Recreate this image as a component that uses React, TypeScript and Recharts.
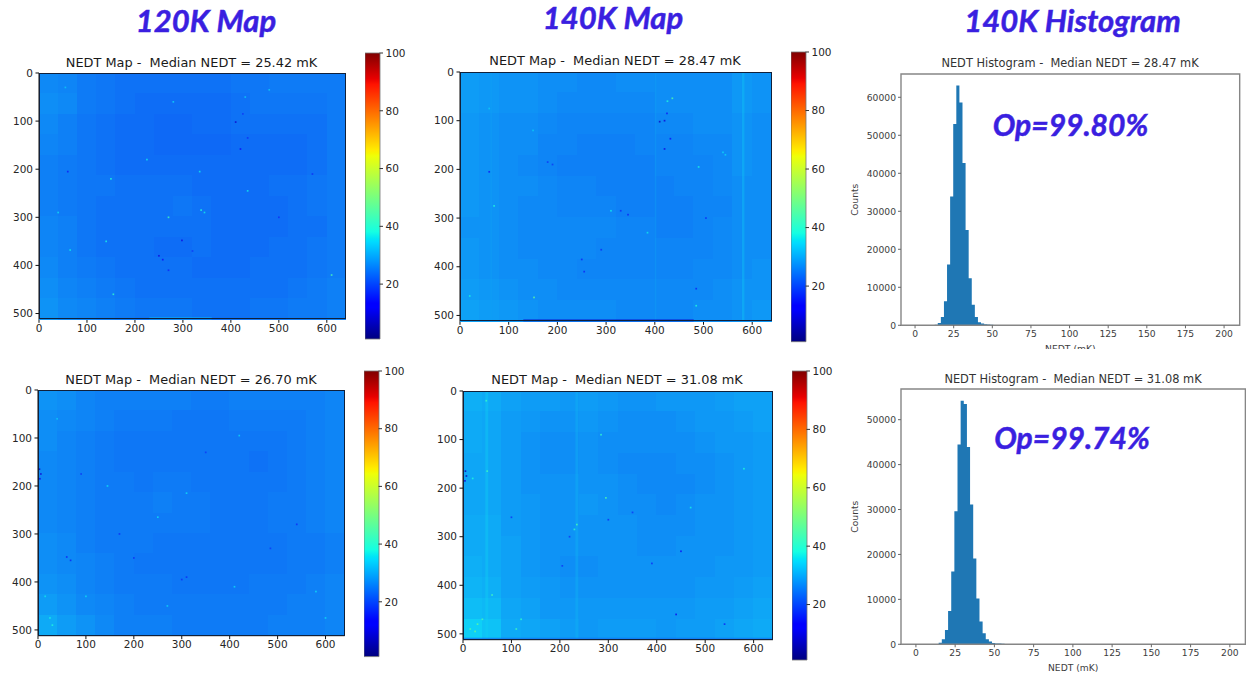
import {
  AreaChart,
  Area,
  BarChart,
  Bar,
  ScatterChart,
  Scatter,
  XAxis,
  YAxis,
  ReferenceArea,
} from 'recharts';

// NEDT readings (mK) averaged over 16 x 12 blocks of the 640 x 512 focal plane
const map120kTop = [
  [26.5, 26, 25, 24.5, 24, 24, 24, 24, 24, 24, 24.5, 24.5, 25, 25, 25, 25],
  [27, 26.5, 25, 24.5, 24, 23.5, 23.5, 23.5, 23.5, 23.5, 24, 24.5, 24.5, 24.5, 24.5, 25],
  [26.5, 25.5, 24.5, 24, 23.5, 23.5, 23, 23, 23.5, 23.5, 24, 24, 24, 24, 24, 25],
  [26, 25.5, 24.5, 24, 23.5, 23.5, 23, 23, 23, 23, 23.5, 23.5, 23.5, 23.5, 24, 25],
  [25.5, 25, 24.5, 24, 23.5, 23.5, 23.5, 23.5, 23.5, 23.5, 23.5, 23.5, 23.5, 23.5, 24, 25],
  [25.5, 25, 24.5, 24.5, 24, 24, 24, 24, 23.5, 23.5, 23.5, 23.5, 24, 24, 24.5, 25],
  [25.5, 25, 24.5, 24, 24, 24, 24, 24.5, 24, 23.5, 23.5, 23.5, 23.5, 24, 24.5, 25],
  [26, 25.5, 24.5, 24, 24, 24, 24, 24, 24, 23.5, 23.5, 23.5, 23.5, 24, 24, 25],
  [26, 25.5, 24.5, 24, 24, 24, 23.5, 23.5, 24, 23.5, 23.5, 23.5, 24, 24, 24.5, 25],
  [26.5, 25.5, 25, 24.5, 24, 24, 24, 24, 23.5, 23.5, 23.5, 24, 24, 24, 24.5, 25],
  [27, 26, 25.5, 25, 24.5, 24, 24, 24, 24, 24, 24, 24, 24, 24.5, 25, 25.5],
  [27.5, 26.5, 26, 25.5, 25, 24.5, 24.5, 24.5, 24, 24, 24, 24.5, 24.5, 25, 25, 25.5],
];
const map140kTop = [
  [28.5, 28, 27.5, 27.5, 27, 27, 26.5, 26.5, 27, 27, 27, 27, 27, 27, 28, 27.5],
  [28.5, 28, 27.5, 27.5, 27, 26.5, 26.5, 26.5, 26.5, 26.5, 27, 27, 27, 27, 28, 27.5],
  [28, 27.5, 27, 27, 26.5, 26, 26, 26, 26, 26, 26.5, 26.5, 27, 27, 27.5, 27],
  [28, 27.5, 27, 27, 26, 26, 25.5, 25.5, 25.5, 26, 26, 26, 26.5, 26.5, 27.5, 27],
  [28, 27.5, 27, 26.5, 26, 25.5, 25.5, 25.5, 25.5, 25.5, 26, 26, 26, 26.5, 27.5, 27],
  [28, 27.5, 27, 27, 26.5, 26, 26, 25.5, 25.5, 25.5, 25.5, 26, 26, 26.5, 27, 27],
  [28, 27.5, 27, 26.5, 26.5, 26, 26, 26, 25.5, 25.5, 25.5, 25.5, 26, 26, 27, 27],
  [27.5, 27.5, 27, 26.5, 26.5, 26.5, 26.5, 26.5, 26, 26, 25.5, 25.5, 26, 26.5, 27, 27],
  [28, 27.5, 27, 26.5, 26.5, 26.5, 26.5, 26, 26, 26, 26, 26, 26, 26.5, 27, 27],
  [28, 27.5, 27, 27, 26.5, 26.5, 26, 26, 26, 26, 26, 26, 26.5, 26.5, 27, 27.5],
  [28.5, 28, 27.5, 27, 27, 26.5, 26.5, 26.5, 26.5, 26.5, 26.5, 26.5, 26.5, 27, 27.5, 27.5],
  [29, 28.5, 28, 27.5, 27, 27, 27, 27, 26.5, 26.5, 26.5, 26.5, 27, 27, 27.5, 28],
];
const map120kBottom = [
  [27.5, 27, 26, 25.5, 25.5, 25.5, 25.5, 25.5, 25, 25, 25.5, 25.5, 25.5, 25.5, 25.5, 26],
  [27, 26.5, 26, 25.5, 25, 25, 25, 24.5, 24.5, 24.5, 25, 25, 25, 25, 25.5, 26],
  [27, 26, 25.5, 25, 24.5, 24.5, 24.5, 24.5, 24.5, 24.5, 24.5, 24.5, 24.5, 25, 25.5, 26],
  [26.5, 26, 25.5, 25, 24.5, 24.5, 24.5, 24.5, 24.5, 24.5, 24.5, 24, 24.5, 25, 25.5, 26],
  [26.5, 26, 25.5, 25, 25, 24.5, 25, 25, 24.5, 24.5, 24.5, 24.5, 24.5, 25, 25.5, 26],
  [26.5, 26, 25.5, 25, 25, 25, 25.5, 25, 25, 24.5, 24.5, 24.5, 25, 25, 25.5, 26],
  [26.5, 26, 25.5, 25, 25, 25, 25, 25, 25, 24.5, 24.5, 24.5, 25, 25, 25.5, 26],
  [27, 26.5, 25.5, 25, 25, 25, 24.5, 24.5, 24.5, 24.5, 24.5, 24.5, 24.5, 25, 25, 25.5],
  [27, 26.5, 26, 25.5, 25, 24.5, 24.5, 24.5, 24.5, 24.5, 24.5, 24.5, 24.5, 25, 25, 25.5],
  [27.5, 27, 26, 25.5, 25, 25, 25, 24.5, 24.5, 24.5, 24.5, 25, 25, 25, 25.5, 26],
  [28.5, 27.5, 26.5, 26, 25.5, 25, 25, 25, 25, 25, 25, 25, 25, 25.5, 25.5, 26],
  [30, 28.5, 27.5, 26.5, 25.5, 25.5, 25.5, 25, 25, 25, 25, 25, 25.5, 25.5, 25.5, 26],
];
const map140kBottom = [
  [30.5, 30, 29, 28.5, 28.5, 28, 28.5, 28, 27.5, 27.5, 28, 28, 28, 28.5, 29, 29],
  [30, 29.5, 28.5, 28, 27.5, 27.5, 28, 27.5, 27, 27, 27, 27.5, 28, 28, 28.5, 29],
  [30, 29.5, 28.5, 27.5, 27, 27, 27.5, 27, 27, 27, 27, 27, 27.5, 28, 28, 28.5],
  [29.5, 29.5, 28.5, 27.5, 27, 27, 27.5, 27, 26.5, 26.5, 26.5, 27, 27, 27.5, 28, 28.5],
  [29.5, 29.5, 28.5, 27.5, 27.5, 27.5, 27.5, 27.5, 27, 26.5, 26.5, 26.5, 27, 27.5, 28, 28.5],
  [29.5, 29.5, 28.5, 28, 27.5, 27.5, 28, 27.5, 27, 27, 26.5, 27, 27.5, 27.5, 28, 28.5],
  [30, 30, 28.5, 28, 27.5, 27.5, 27.5, 27.5, 27.5, 27, 27, 27, 27.5, 27.5, 28, 28.5],
  [30, 30, 29, 28, 27.5, 27.5, 27.5, 27.5, 27.5, 27, 27, 27.5, 27.5, 27.5, 28, 28.5],
  [30.5, 30, 29, 28, 27.5, 27, 27, 27.5, 27.5, 27.5, 27.5, 27.5, 27.5, 28, 28, 28.5],
  [31, 30.5, 29, 28.5, 28, 27.5, 27.5, 27.5, 27.5, 27.5, 27.5, 27.5, 28, 28, 28.5, 29],
  [32, 31.5, 29.5, 29, 28, 28, 28, 28, 28, 28, 28, 28, 28.5, 28.5, 29, 29.5],
  [34, 32.5, 30, 29.5, 29, 28.5, 28, 28.5, 28.5, 28.5, 28, 28.5, 28.5, 29, 29.5, 30],
];

// single pixels and clusters that stand out: [column, row, NEDT]
const spots120kTop = [
  [410, 102, 8], [420, 158, 12], [435, 135, 17], [425, 85, 18], [155, 460, 40], [610, 420, 43], [270, 300, 42],
  [250, 380, 10], [258, 388, 12], [298, 348, 10], [320, 370, 18], [338, 285, 38], [345, 290, 36], [150, 220, 38],
  [65, 368, 36], [40, 290, 35], [225, 180, 36], [270, 410, 16], [335, 205, 36], [435, 245, 36], [500, 300, 17],
  [140, 350, 37], [55, 30, 33], [480, 35, 33], [60, 205, 15], [570, 210, 17], [280, 60, 34], [430, 50, 33],
];
const spots140kTop = [
  [436, 54, 44], [426, 60, 38], [152, 463, 46], [410, 102, 7], [420, 100, 9], [425, 85, 15], [420, 158, 10],
  [432, 137, 14], [60, 205, 15], [70, 275, 38], [310, 285, 36], [345, 293, 16], [330, 285, 17], [180, 185, 18],
  [190, 190, 18], [250, 385, 16], [490, 195, 37], [540, 165, 34], [545, 170, 34], [60, 75, 33], [150, 120, 33],
  [385, 330, 36], [255, 410, 16], [505, 300, 17], [485, 445, 16], [485, 480, 38], [290, 365, 17], [20, 460, 37],
];
const spots120kBottom = [
  [3, 165, 8], [6, 175, 9], [4, 185, 11], [68, 355, 16], [60, 348, 16], [200, 350, 17], [300, 395, 17],
  [310, 390, 17], [30, 490, 38], [25, 475, 37], [145, 200, 35], [250, 265, 35], [310, 215, 35], [540, 280, 17],
  [15, 430, 36], [100, 430, 35], [350, 130, 18], [90, 175, 18], [420, 95, 34], [580, 420, 35], [40, 60, 33],
  [270, 450, 34], [485, 330, 18], [600, 475, 35], [170, 300, 17], [410, 410, 35],
];
const spots140kBottom = [
  [5, 165, 6], [7, 175, 7], [4, 185, 9], [295, 220, 44], [235, 275, 43], [230, 285, 40], [30, 480, 46],
  [25, 495, 47], [15, 490, 44], [40, 470, 43], [110, 490, 42], [50, 165, 42], [48, 20, 41], [450, 330, 14],
  [440, 460, 11], [540, 480, 16], [300, 265, 17], [220, 300, 18], [390, 355, 17], [20, 180, 38], [120, 470, 40],
  [285, 90, 40], [580, 160, 38], [470, 240, 37], [205, 360, 18], [100, 260, 18], [60, 420, 42], [350, 250, 18],
];

// [first column, last column, NEDT] for the column stripes of each frame
const stripes140kTop = [[579, 584, 33], [400, 403, 29], [62, 66, 29]];
const stripes140kBottom = [[46, 52, 34], [232, 238, 31]];

// [first column, last column, NEDT] for the damaged last rows
const edge120kTop = [[230, 360, 33]];
const edge140kTop = [[130, 480, 8]];
const edge140kBottom = [[0, 640, 24]];

const colorbarRange = [{ name: 'NEDT', range: [1, 100] }];
const colorbarTicks = [20, 40, 60, 80, 100];
const mapXTicks = [0, 100, 200, 300, 400, 500, 600];
const mapYTicks = [0, 100, 200, 300, 400, 500];
const jetBreaks = [0, 0.11, 0.125, 0.34, 0.35, 0.375, 0.64, 0.65, 0.66, 0.89, 0.91, 1];

// left edge of each 2 mK bin, with the closing edge of the last bin at the end
const hist140kTopEdges = [12.7, 14.7, 16.7, 18.7, 20.7, 22.7, 24.7, 26.7, 28.7, 30.7, 32.7, 34.7, 36.7, 38.7, 40.7, 42.7, 44.7, 46.7, 48.7, 50.7, 52.7];
const hist140kTopCounts = [150, 600, 2200, 6300, 16000, 33900, 53000, 63100, 58600, 42700, 25100, 12400, 5400, 2200, 800, 500, 300, 200, 120, 100, 0];
const hist140kBottomEdges = [14.5, 16.5, 18.5, 20.5, 22.5, 24.5, 26.5, 28.5, 30.5, 32.5, 34.5, 36.5, 38.5, 40.5, 42.5, 44.5, 46.5, 48.5, 50.5, 52.5, 54.5, 56.5, 58.5];
const hist140kBottomCounts = [370, 1100, 3200, 7400, 16200, 29600, 44500, 54200, 53500, 43900, 31100, 19100, 10200, 5100, 2450, 1100, 600, 300, 180, 150, 120, 80, 0];
const histXTicks = [0, 25, 50, 75, 100, 125, 150, 175, 200];
const histTopYTicks = [0, 10000, 20000, 30000, 40000, 50000, 60000];
const histBottomYTicks = [0, 10000, 20000, 30000, 40000, 50000];

const COLS = 16;
const ROWS = 12;
const MAP_W = 640;
const MAP_H = 512;
const DEJAVU = '"DejaVu Sans", sans-serif';
const BLUE = '#3a1fe0';
const HIST_BLUE = '#1f77b4';

const clamp = (v: number) => Math.max(0, Math.min(1, v));

// matplotlib's jet colormap
function jetRgb(t: number) {
  const r = t < 0.35 ? 0 : t < 0.66 ? (t - 0.35) / 0.31 : t < 0.89 ? 1 : 1 - ((t - 0.89) / 0.11) * 0.5;
  const g = t < 0.125 ? 0 : t < 0.375 ? (t - 0.125) / 0.25 : t < 0.64 ? 1 : 1 - (t - 0.64) / 0.27;
  const b = t < 0.11 ? 0.5 + (t / 0.11) * 0.5 : t < 0.34 ? 1 : 1 - (t - 0.34) / 0.31;
  return [r, g, b].map((c) => clamp(c) * 255);
}
const toCss = (c: number[]) => `rgb(${c.map(Math.round).join(',')})`;
const jetAt = (t: number) => toCss(jetRgb(t));
// the photographed maps are a little greyer than the pure colormap
const mapColor = (v: number) => toCss(jetRgb(clamp((v - 1) / 99)).map((c) => c * 0.91 + 160 * 0.09));

interface MapPoint {
  x: number;
  y: number;
  w: number;
  h: number;
  value: number;
}

function HeatCell(props: any) {
  const { cx, cy, payload, pxPerCol, pxPerRow, overlap = 0, opacity = 1 } = props;
  const w = payload.w * pxPerCol + overlap;
  const h = payload.h * pxPerRow + overlap;
  return (
    <rect
      x={cx - w / 2}
      y={cy - h / 2}
      width={w}
      height={h}
      fill={mapColor(payload.value)}
      fillOpacity={opacity}
      shapeRendering={overlap ? 'crispEdges' : undefined}
    />
  );
}

interface NedtMapProps {
  id: string;
  left: number;
  top: number;
  width: number;
  height: number;
  barLeft: number;
  barTop: number;
  barHeight: number;
  grid: number[][];
  spots: number[][];
  stripes?: number[][];
  edge?: number[][];
}

function NedtMap({ id, left, top, width, height, barLeft, barTop, barHeight, grid, spots, stripes = [], edge = [] }: NedtMapProps) {
  const blockW = MAP_W / COLS;
  const blockH = MAP_H / ROWS;
  const cells: MapPoint[] = grid.flatMap((row, r) =>
    row.map((value, c) => ({ x: (c + 0.5) * blockW, y: (r + 0.5) * blockH, w: blockW, h: blockH, value })),
  );
  const spotPoints: MapPoint[] = spots.map(([x, y, value]) => ({ x, y, w: 3.5, h: 3.5, value }));
  const stripePoints: MapPoint[] = stripes.map(([x1, x2, value]) => ({
    x: (x1 + x2) / 2,
    y: MAP_H / 2,
    w: x2 - x1,
    h: MAP_H,
    value,
  }));
  const edgePoints: MapPoint[] = edge.map(([x1, x2, value]) => ({
    x: (x1 + x2) / 2,
    y: MAP_H - 2,
    w: x2 - x1,
    h: 4,
    value,
  }));
  const pxPerCol = width / MAP_W;
  const pxPerRow = height / MAP_H;
  const tick = { fontSize: 10.5, fill: '#262626', fontFamily: DEJAVU };
  const axisLine = { stroke: '#111', strokeWidth: 1 };
  const pad = 8;

  return (
    <>
      <div style={{ position: 'absolute', left: left - 40, top: top - pad }}>
        <ScatterChart
          width={width + 40 + 4}
          height={height + pad + 25}
          margin={{ top: pad, right: 4, bottom: 0, left: 0 }}
        >
          <XAxis
            type="number"
            dataKey="x"
            domain={[0, MAP_W]}
            ticks={mapXTicks}
            interval={0}
            height={25}
            tick={tick}
            tickSize={3.5}
            tickMargin={1.5}
            tickLine={axisLine}
            axisLine={axisLine}
          />
          <YAxis
            type="number"
            dataKey="y"
            reversed
            domain={[0, MAP_H]}
            ticks={mapYTicks}
            interval={0}
            width={40}
            tick={tick}
            tickSize={3.5}
            tickMargin={2.5}
            tickLine={axisLine}
            axisLine={axisLine}
          />
          <Scatter
            data={cells}
            isAnimationActive={false}
            shape={<HeatCell pxPerCol={pxPerCol} pxPerRow={pxPerRow} overlap={0.6} />}
          />
          <Scatter
            data={stripePoints}
            isAnimationActive={false}
            shape={<HeatCell pxPerCol={pxPerCol} pxPerRow={pxPerRow} opacity={0.4} />}
          />
          <Scatter
            data={edgePoints}
            isAnimationActive={false}
            shape={<HeatCell pxPerCol={pxPerCol} pxPerRow={pxPerRow} opacity={0.7} />}
          />
          <Scatter
            data={spotPoints}
            isAnimationActive={false}
            shape={<HeatCell pxPerCol={pxPerCol} pxPerRow={pxPerRow} opacity={0.85} />}
          />
        </ScatterChart>
      </div>
      <div
        style={{
          position: 'absolute',
          left,
          top,
          width,
          height,
          boxSizing: 'border-box',
          border: '1px solid #10203a',
        }}
      />
      <div style={{ position: 'absolute', left: barLeft, top: barTop - pad }}>
        <BarChart
          width={14.5 + 34}
          height={barHeight + pad * 2}
          data={colorbarRange}
          margin={{ top: pad, right: 0, bottom: pad, left: 0 }}
          barCategoryGap={0}
        >
          <defs>
            <linearGradient id={id} x1="0" y1="1" x2="0" y2="0">
              {jetBreaks.map((b) => (
                <stop key={b} offset={b} stopColor={jetAt(b)} />
              ))}
            </linearGradient>
          </defs>
          <XAxis dataKey="name" hide />
          <YAxis
            type="number"
            orientation="right"
            domain={[1, 100]}
            ticks={colorbarTicks}
            interval={0}
            width={34}
            tick={tick}
            tickSize={3.5}
            tickMargin={2.5}
            tickLine={{ stroke: '#333' }}
            axisLine={false}
          />
          <Bar dataKey="range" fill={`url(#${id})`} stroke="#777" strokeWidth={0.8} isAnimationActive={false} />
        </BarChart>
      </div>
    </>
  );
}

interface NedtHistogramProps {
  left: number;
  top: number;
  width: number;
  height: number;
  edges: number[];
  counts: number[];
  yTicks: number[];
  yMax: number;
  xMin: number;
  xMax: number;
  clipBottom?: number;
}

function NedtHistogram({ left, top, width, height, edges, counts, yTicks, yMax, xMin, xMax, clipBottom = 40 }: NedtHistogramProps) {
  const chartData = edges.map((edge, i) => ({ edge, count: counts[i] }));
  const tick = { fontSize: 9.2, fill: '#3d3d3d', fontFamily: DEJAVU };
  const line = { stroke: '#666', strokeWidth: 1 };
  const frame = '#868686';

  return (
    <div
      style={{
        position: 'absolute',
        left: left - 52,
        top: top - 2,
        width: width + 52 + 4,
        height: height + 2 + clipBottom,
        overflow: 'hidden',
      }}
    >
      <AreaChart
        width={width + 52 + 4}
        height={height + 42}
        data={chartData}
        margin={{ top: 2, right: 4, bottom: 0, left: 0 }}
      >
        <XAxis
          type="number"
          dataKey="edge"
          domain={[xMin, xMax]}
          ticks={histXTicks}
          interval={0}
          height={40}
          tick={tick}
          tickSize={3}
          tickMargin={2}
          tickLine={line}
          axisLine={false}
          label={{ value: 'NEDT (mK)', position: 'insideTop', offset: 20, fontSize: 9.2, fill: '#3d3d3d', fontFamily: DEJAVU }}
        />
        <YAxis
          type="number"
          domain={[0, yMax]}
          ticks={yTicks}
          interval={0}
          width={52}
          tick={tick}
          tickSize={3}
          tickMargin={2}
          tickLine={line}
          axisLine={false}
          label={{ value: 'Counts', angle: -90, position: 'center', dx: -20, fontSize: 9.2, fill: '#3d3d3d', fontFamily: DEJAVU }}
        />
        <Area
          type="stepAfter"
          dataKey="count"
          fill={HIST_BLUE}
          fillOpacity={1}
          stroke="none"
          dot={false}
          activeDot={false}
          isAnimationActive={false}
        />
        <ReferenceArea x1={xMin} x2={xMax} y1={0} y2={yMax} fill="none" stroke={frame} strokeWidth={1.4} />
      </AreaChart>
    </div>
  );
}

function PageText() {
  const heading = {
    fontFamily: 'Lato, sans-serif',
    fontWeight: 700,
    fontStyle: 'italic',
    fill: BLUE,
    stroke: BLUE,
    strokeWidth: 0.5,
    textAnchor: 'middle' as const,
  };
  const mapTitle = { fontFamily: DEJAVU, fontSize: 12.9, fill: '#1a1a1a', textAnchor: 'middle' as const, style: { whiteSpace: 'pre' as const } };
  const histTitle = { fontFamily: DEJAVU, fontSize: 11.4, fill: '#333', textAnchor: 'middle' as const, style: { whiteSpace: 'pre' as const } };
  return (
    <svg width={1246} height={677} style={{ position: 'absolute', left: 0, top: 0, pointerEvents: 'none' }}>
      <text x={206} y={32} fontSize={31} {...heading}>120K Map</text>
      <text x={613} y={29} fontSize={31} {...heading}>140K Map</text>
      <text x={1072.5} y={32} fontSize={31} {...heading}>140K Histogram</text>
      <text x={1070.5} y={136} fontSize={30} {...heading}>Op=99.80%</text>
      <text x={1072} y={449} fontSize={30} {...heading}>Op=99.74%</text>
      <text x={191.5} y={67} {...mapTitle}>NEDT Map -  Median NEDT = 25.42 mK</text>
      <text x={615} y={65} {...mapTitle}>NEDT Map -  Median NEDT = 28.47 mK</text>
      <text x={191} y={384} {...mapTitle}>NEDT Map -  Median NEDT = 26.70 mK</text>
      <text x={617} y={384} {...mapTitle}>NEDT Map -  Median NEDT = 31.08 mK</text>
      <text x={1070} y={67} {...histTitle}>NEDT Histogram -  Median NEDT = 28.47 mK</text>
      <text x={1073} y={383} {...histTitle}>NEDT Histogram -  Median NEDT = 31.08 mK</text>
    </svg>
  );
}

export default function App() {
  return (
    <div style={{ position: 'absolute', left: 0, top: 0, width: 1246, height: 677, background: '#fff', overflow: 'hidden' }}>
      <NedtMap id="jet-a" left={38.5} top={73} width={307} height={246.3} barLeft={365} barTop={53.3} barHeight={286} grid={map120kTop} spots={spots120kTop} edge={edge120kTop} />
      <NedtMap id="jet-b" left={460} top={72} width={311.7} height={249.3} barLeft={790.7} barTop={52.3} barHeight={289.7} grid={map140kTop} spots={spots140kTop} stripes={stripes140kTop} edge={edge140kTop} />
      <NedtMap id="jet-c" left={38.3} top={390.3} width={306.7} height={245.7} barLeft={364} barTop={370.7} barHeight={285.6} grid={map120kBottom} spots={spots120kBottom} />
      <NedtMap id="jet-d" left={462.7} top={391.3} width={310} height={248.7} barLeft={791.7} barTop={371.3} barHeight={289} grid={map140kBottom} spots={spots140kBottom} stripes={stripes140kBottom} edge={edge140kBottom} />
      <NedtHistogram left={901} top={73.7} width={338.7} height={251.3} edges={hist140kTopEdges} counts={hist140kTopCounts} yTicks={histTopYTicks} yMax={66130} xMin={-9.1} xMax={210.1} clipBottom={24.5} />
      <NedtHistogram left={901.3} top={389} width={344.4} height={255.3} edges={hist140kBottomEdges} counts={hist140kBottomCounts} yTicks={histBottomYTicks} yMax={56830} xMin={-9.5} xMax={209.9} />
      <PageText />
    </div>
  );
}
